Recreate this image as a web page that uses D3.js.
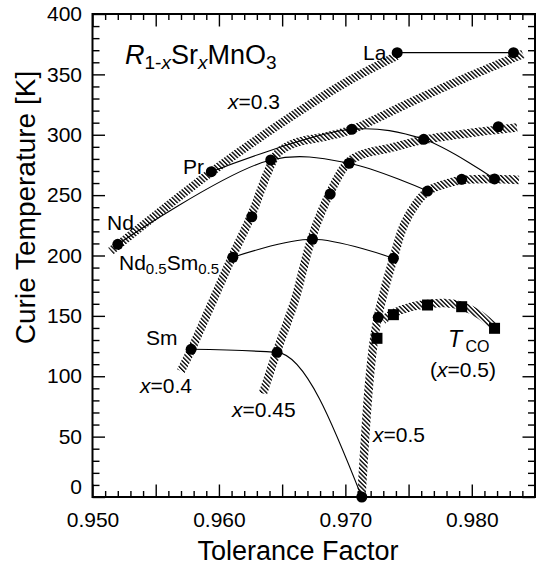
<!DOCTYPE html>
<html>
<head>
<meta charset="utf-8">
<script src="https://cdn.jsdelivr.net/npm/d3@7"></script>
<style>
  body { margin: 0; background: #fff; }
  svg { display: block; }
  text { font-family: "Liberation Sans", Arial, Helvetica, sans-serif; fill: #000; }
</style>
</head>
<body>
<svg id="chart" width="536" height="566"></svg>
<script>
// ---- axis ticks ----
const xMajorTicks = [0.950, 0.955, 0.960, 0.965, 0.970, 0.975, 0.980];
const xLabelTicks = [0.950, 0.960, 0.970, 0.980];
const xLabelText = ["0.950", "0.960", "0.970", "0.980"];
const yMajorTicks = [0, 50, 100, 150, 200, 250, 300, 350, 400];
const yLabelText = ["0", "50", "100", "150", "200", "250", "300", "350", "400"];

// ---- Curie temperature (tolerance factor, Tc [K]) for each rare earth R, x = 0.3 -> 0.5 ----
const laPoints = [[0.9741, 368.0], [0.9833, 368.0]];
const prPoints = [[0.9594, 269.4], [0.9705, 304.5], [0.9762, 296.2], [0.9818, 263.4]];
const ndPoints = [[0.9520, 209.3], [0.9641, 279.1], [0.9703, 276.4], [0.9765, 253.4]];
const ndSmPoints = [[0.9611, 198.5], [0.9674, 213.4], [0.9738, 197.7]];
const smPoints = [[0.9578, 122.3], [0.9646, 119.8], [0.9713, 0.0]];
// further Tc points lying on the constant-x bands
const otherPoints = [[0.9626, 232.1], [0.9688, 250.9], [0.9821, 306.7], [0.9792, 263.1], [0.9726, 148.8]];
// charge-ordering temperature T_CO for x = 0.5
const tcoPoints = [[0.9725, 131.4], [0.9738, 151.0], [0.9765, 159.0], [0.9792, 157.6], [0.9818, 139.7]];

// ---- hatched guide bands for constant x ----
const bandX03 = [[0.95145, 203.7], [0.95942, 269.2], [0.96482, 308.9], [0.97010, 343.7], [0.97406, 365.2]];
const bandX04 = [[0.95699, 104.3], [0.95783, 122.3], [0.96102, 198.3], [0.96261, 234.4], [0.96387, 269.2],
                 [0.96466, 284.9], [0.96601, 293.2], [0.96852, 298.6], [0.97052, 304.3], [0.97535, 327.9],
                 [0.97986, 348.7], [0.98405, 366.9]];
const bandX045 = [[0.96348, 85.7], [0.96456, 119.8], [0.96601, 163.1], [0.96733, 214.2], [0.96878, 251.8],
                  [0.97023, 277.4], [0.97155, 284.5], [0.97353, 289.0], [0.97616, 295.7], [0.97986, 301.4],
                  [0.98358, 306.0]];
const bandX05 = [[0.97127, 0.0], [0.97155, 47.2], [0.97187, 92.8], [0.97226, 130.0], [0.97258, 149.1],
                 [0.97313, 173.1], [0.97384, 198.8], [0.97463, 225.3], [0.97558, 242.7], [0.97653, 253.4],
                 [0.97788, 259.2], [0.97922, 262.5], [0.98183, 263.4], [0.98373, 262.5]];
const bandTco = [[0.97297, 146.6], [0.97384, 152.4], [0.97511, 157.3], [0.97653, 159.8], [0.97788, 160.7],
                 [0.97922, 158.2], [0.98065, 150.7], [0.98199, 138.3]];

const svg = d3.select("#chart");
const plotLeft = 92.5, plotRight = 535, plotTop = 14, plotBottom = 497;

const x = d3.scaleLinear().domain([0.950, 0.985]).range([plotLeft, plotRight]);
const y = d3.scaleLinear().domain([0, 400]).range([plotBottom, plotTop]);

// hatch pattern for the bands
const defs = svg.append("defs");
const pat = defs.append("pattern")
  .attr("id", "hatch")
  .attr("patternUnits", "userSpaceOnUse")
  .attr("width", 3.1).attr("height", 10)
  .attr("patternTransform", "rotate(-45)");
pat.append("rect").attr("width", 1.35).attr("height", 10).attr("fill", "#000");

// ---- axes (ticks point inward on all four sides) ----
const xMinor = d3.range(951, 985).map(v => v / 1000).filter(v => !xMajorTicks.some(m => Math.abs(m - v) < 1e-6));
const yMinor = d3.range(10, 400, 10).filter(v => v % 50 !== 0);

function styleAxis(g) {
  g.select(".domain").remove();
  g.selectAll(".tick line").attr("stroke", "#000").attr("stroke-width", 1.4);
}

svg.append("g").attr("transform", `translate(0,${plotBottom})`)
  .call(d3.axisBottom(x).tickValues(xMinor).tickSize(-6).tickFormat(""))
  .call(styleAxis);
svg.append("g").attr("transform", `translate(0,${plotBottom})`)
  .call(d3.axisBottom(x).tickValues(xMajorTicks).tickSize(-12.5).tickFormat(""))
  .call(styleAxis);
svg.append("g").attr("transform", `translate(0,${plotTop})`)
  .call(d3.axisTop(x).tickValues(xMinor).tickSize(-6).tickFormat(""))
  .call(styleAxis);
svg.append("g").attr("transform", `translate(0,${plotTop})`)
  .call(d3.axisTop(x).tickValues(xMajorTicks).tickSize(-12.5).tickFormat(""))
  .call(styleAxis);

svg.append("g").attr("transform", `translate(${plotLeft},0)`)
  .call(d3.axisLeft(y).tickValues(yMinor).tickSize(-7).tickFormat(""))
  .call(styleAxis);
svg.append("g").attr("transform", `translate(${plotLeft},0)`)
  .call(d3.axisLeft(y).tickValues(yMajorTicks).tickSize(-12.5).tickFormat(""))
  .call(styleAxis);
svg.append("g").attr("transform", `translate(${plotRight},0)`)
  .call(d3.axisRight(y).tickValues(yMinor).tickSize(-7).tickFormat(""))
  .call(styleAxis);
svg.append("g").attr("transform", `translate(${plotRight},0)`)
  .call(d3.axisRight(y).tickValues(yMajorTicks).tickSize(-12.5).tickFormat(""))
  .call(styleAxis);

// tick labels
const xLab = svg.append("g").attr("transform", `translate(0,${plotBottom})`)
  .call(d3.axisBottom(x).tickValues(xLabelTicks).tickSize(0).tickPadding(15)
        .tickFormat((d, i) => xLabelText[i]));
xLab.select(".domain").remove();
xLab.selectAll("text").attr("font-size", 21).attr("font-family", null);

const yLab = svg.append("g").attr("transform", `translate(${plotLeft},0)`)
  .call(d3.axisLeft(y).tickValues(yMajorTicks).tickSize(0).tickPadding(10.5)
        .tickFormat((d, i) => yLabelText[i]));
yLab.select(".domain").remove();
yLab.selectAll("text").attr("font-size", 21).attr("font-family", null)
  .attr("transform", d => d === 0 ? "translate(0,-10)" : null);

// frame
svg.append("rect")
  .attr("x", plotLeft).attr("y", plotTop)
  .attr("width", plotRight - plotLeft).attr("height", plotBottom - plotTop)
  .attr("fill", "none").attr("stroke", "#000").attr("stroke-width", 2);

// axis titles
svg.append("text").attr("x", 298).attr("y", 560)
  .attr("text-anchor", "middle").attr("font-size", 27)
  .text("Tolerance Factor");
svg.append("text").attr("transform", "translate(35,207.5) rotate(-90)")
  .attr("text-anchor", "middle").attr("font-size", 28)
  .text("Curie Temperature [K]");

// ---- hatched bands ----
const band = d3.line().x(d => x(d[0])).y(d => y(d[1])).curve(d3.curveCatmullRom.alpha(0.5));
const bandGroup = svg.append("g");
[bandX03, bandX04, bandX045, bandX05, bandTco].forEach(b => {
  bandGroup.append("path").attr("d", band(b))
    .attr("fill", "none").attr("stroke", "url(#hatch)")
    .attr("stroke-width", 8.5).attr("stroke-linecap", "butt").attr("stroke-linejoin", "round");
});

// ---- thin lines linking the same rare earth ----
const smooth = d3.line().x(d => x(d[0])).y(d => y(d[1])).curve(d3.curveCatmullRom.alpha(0.5));
const mono = d3.line().x(d => x(d[0])).y(d => y(d[1])).curve(d3.curveMonotoneX);
const lineGroup = svg.append("g").attr("fill", "none").attr("stroke", "#000").attr("stroke-width", 1.1);
lineGroup.append("path").attr("d", mono(laPoints));
lineGroup.append("path").attr("d", smooth(prPoints));
lineGroup.append("path").attr("d", smooth(ndPoints));
lineGroup.append("path").attr("d", smooth(ndSmPoints));
lineGroup.append("path").attr("d", mono(smPoints));

// ---- markers ----
const circles = [].concat(laPoints, prPoints, ndPoints, ndSmPoints, smPoints, otherPoints);
svg.append("g").selectAll("circle").data(circles).join("circle")
  .attr("cx", d => x(d[0])).attr("cy", d => y(d[1])).attr("r", 5.5).attr("fill", "#000");
const sq = 11;
svg.append("g").selectAll("rect").data(tcoPoints).join("rect")
  .attr("x", d => x(d[0]) - sq / 2).attr("y", d => y(d[1]) - sq / 2)
  .attr("width", sq).attr("height", sq).attr("fill", "#000");

// ---- annotations ----
const title = svg.append("text").attr("x", 125).attr("y", 63.5).attr("font-size", 27);
title.append("tspan").attr("font-style", "italic").text("R");
title.append("tspan").attr("font-size", 19).attr("dy", 5).text("1-");
title.append("tspan").attr("font-size", 19).attr("font-style", "italic").text("x");
title.append("tspan").attr("dy", -5).text("Sr");
title.append("tspan").attr("font-size", 19).attr("font-style", "italic").attr("dy", 5).text("x");
title.append("tspan").attr("dy", -5).text("MnO");
title.append("tspan").attr("font-size", 19).attr("dy", 5).text("3");

function plainLabel(tx, ty, s) {
  svg.append("text").attr("x", tx).attr("y", ty).attr("font-size", 21).text(s);
}
plainLabel(363, 60, "La");
plainLabel(183, 173.5, "Pr");
plainLabel(107, 230, "Nd");
plainLabel(146, 345, "Sm");

const ndsm = svg.append("text").attr("x", 119).attr("y", 269.5).attr("font-size", 21);
ndsm.append("tspan").text("Nd");
ndsm.append("tspan").attr("font-size", 15).attr("dy", 4.5).text("0.5");
ndsm.append("tspan").attr("dy", -4.5).text("Sm");
ndsm.append("tspan").attr("font-size", 15).attr("dy", 4.5).text("0.5");

function xLabel(tx, ty, val) {
  const t = svg.append("text").attr("x", tx).attr("y", ty).attr("font-size", 21);
  t.append("tspan").attr("font-style", "italic").text("x");
  t.append("tspan").text("=" + val);
}
xLabel(228, 109, "0.3");
xLabel(140, 393, "0.4");
xLabel(232, 417, "0.45");
xLabel(373, 441.5, "0.5");

const tco = svg.append("text").attr("x", 448).attr("y", 346.5).attr("font-size", 23);
tco.append("tspan").attr("font-style", "italic").text("T");
tco.append("tspan").attr("x", 465.5).attr("dy", 5).attr("font-size", 16).text("CO");
const tcoX = svg.append("text").attr("x", 430).attr("y", 376.5).attr("font-size", 21);
tcoX.append("tspan").text("(");
tcoX.append("tspan").attr("font-style", "italic").text("x");
tcoX.append("tspan").text("=0.5)");
</script>
</body>
</html>
